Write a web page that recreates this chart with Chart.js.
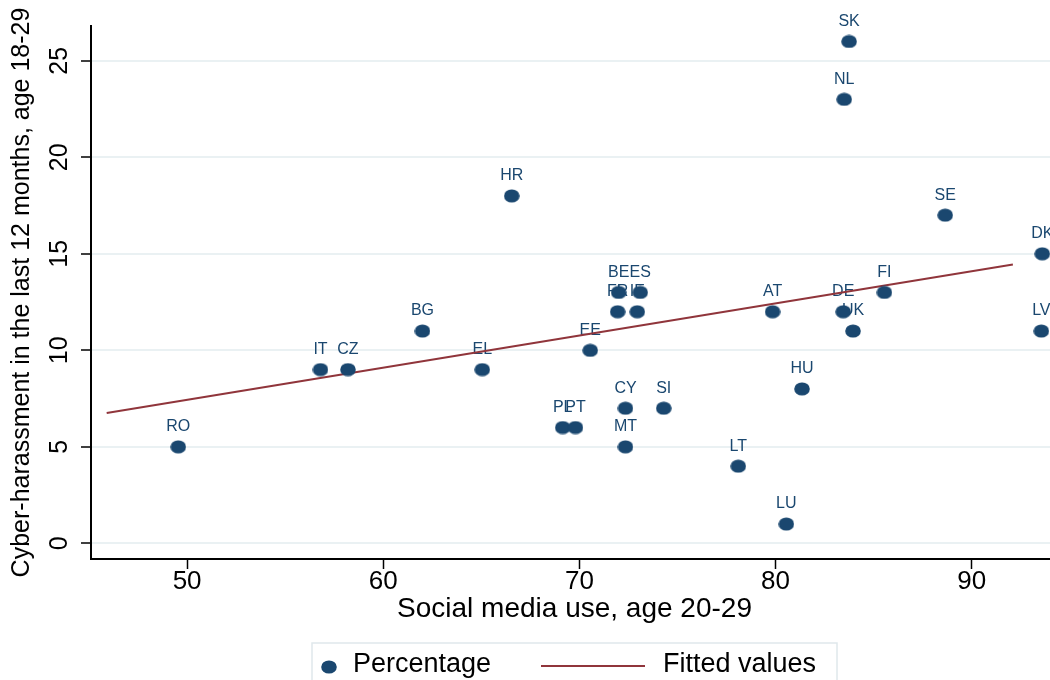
<!DOCTYPE html>
<html>
<head>
<meta charset="utf-8">
<script src="https://cdn.jsdelivr.net/npm/chart.js@4.4.1/dist/chart.umd.min.js"></script>
<style>
  html, body { margin: 0; padding: 0; background: #fff; overflow: hidden; width: 1050px; height: 680px; }
  #wrap { position: relative; width: 1075px; height: 700px; }
</style>
</head>
<body>
<div id="wrap"><canvas id="c" width="1075" height="700"></canvas></div>
<script>
// Country codes and their values
const countries = ['RO','IT','CZ','BG','EL','HR','PL','PT','EE','BE','FR','ES','IE','CY','MT','SI','LT','LU','AT','HU','DE','UK','NL','SK','FI','SE','DK','LV'];
const socialMediaUse = [49.55,56.8,58.2,62.0,65.05,66.55,69.15,69.8,70.55,72.0,71.95,73.1,72.95,72.35,72.35,74.3,78.1,80.55,79.85,81.35,83.45,83.95,83.5,83.75,85.55,88.65,93.6,93.55];
const cyberHarassment = [5,9,9,11,9,18,6,6,10,13,12,13,12,7,5,7,4,1,12,8,12,11,23,26,13,17,15,11];

// Linear fit endpoints
const fitX = [45.9, 92.1];
const fitY = [6.75, 14.45];

// Axis ticks
const xTicks = [50, 60, 70, 80, 90];
const yTicks = [0, 5, 10, 15, 20, 25];

const NAVY = '#1a476f';
const MAROON = '#90353b';
const FONT = '"Liberation Sans", Arial, sans-serif';

// Marker: filled navy dot
const dot = document.createElement('canvas');
dot.width = 16; dot.height = 14;
(function () {
  const g = dot.getContext('2d');
  g.fillStyle = NAVY;
  g.beginPath();
  g.ellipse(8, 7, 7.8, 6.6, 0, 0, Math.PI * 2);
  g.fill();
})();

const scatterPoints = socialMediaUse.map((x, i) => ({ x: x, y: cyberHarassment[i] }));
const fitPoints = fitX.map((x, i) => ({ x: x, y: fitY[i] }));

// Country code above each marker
const pointLabels = {
  id: 'pointLabels',
  beforeDatasetsDraw(chart) {
    const meta = chart.getDatasetMeta(0);
    const ctx = chart.ctx;
    ctx.save();
    ctx.font = '16px ' + FONT;
    ctx.fillStyle = NAVY;
    ctx.textAlign = 'center';
    ctx.textBaseline = 'middle';
    meta.data.forEach((pt, i) => ctx.fillText(countries[i], pt.x, pt.y - 20));
    ctx.restore();
  }
};

// Boxed legend below the x-axis title
const legendBox = {
  id: 'legendBox',
  afterDraw(chart) {
    const { ctx, chartArea } = chart;
    const cx = (chartArea.left + chartArea.right) / 2;
    const w = 525, h = 50, top = 643;
    const left = cx - w / 2;
    const mid = top + 22;
    ctx.save();
    ctx.strokeStyle = '#dfe8eb';
    ctx.lineWidth = 1.5;
    ctx.strokeRect(left, top, w, h);
    ctx.drawImage(dot, left + 17 - 8, mid + 2 - 7);
    ctx.font = '27px ' + FONT;
    ctx.fillStyle = '#000';
    ctx.textAlign = 'left';
    ctx.textBaseline = 'middle';
    ctx.fillText(chart.data.datasets[0].label, left + 41, mid);
    ctx.strokeStyle = MAROON;
    ctx.lineWidth = 2.2;
    ctx.beginPath();
    ctx.moveTo(left + 229, mid + 1);
    ctx.lineTo(left + 333, mid + 1);
    ctx.stroke();
    ctx.fillText(chart.data.datasets[1].label, left + 351, mid);
    ctx.restore();
  }
};

new Chart(document.getElementById('c'), {
  type: 'scatter',
  data: {
    datasets: [
      {
        label: 'Percentage',
        data: scatterPoints,
        pointStyle: dot,
        pointRadius: 7,
        pointHoverRadius: 7,
        backgroundColor: NAVY,
        borderWidth: 0
      },
      {
        type: 'line',
        label: 'Fitted values',
        data: fitPoints,
        borderColor: MAROON,
        borderWidth: 2,
        pointRadius: 0,
        fill: false
      }
    ]
  },
  options: {
    responsive: false,
    animation: false,
    devicePixelRatio: 1,
    layout: { padding: { top: 26, right: 17, bottom: 77, left: 4 } },
    plugins: {
      legend: { display: false },
      tooltip: { enabled: false }
    },
    scales: {
      x: {
        type: 'linear',
        min: 45.1,
        max: 94.4,
        afterBuildTicks: (axis) => { axis.ticks = xTicks.map(v => ({ value: v })); },
        border: { color: '#000', width: 2 },
        grid: { drawOnChartArea: false, drawTicks: true, tickLength: 10, tickColor: '#000', tickWidth: 1.5 },
        ticks: { color: '#000', padding: 0, font: { family: FONT, size: 26, lineHeight: 1.0 } },
        title: {
          display: true,
          text: 'Social media use, age 20-29',
          color: '#000',
          font: { family: FONT, size: 28, lineHeight: 1.0 },
          padding: { top: 0, bottom: 0 }
        }
      },
      y: {
        type: 'linear',
        min: -0.81,
        max: 26.8,
        afterBuildTicks: (axis) => { axis.ticks = yTicks.map(v => ({ value: v })); },
        border: { color: '#000', width: 2 },
        grid: { color: '#eaf1f3', lineWidth: 2, drawTicks: true, tickLength: 10, tickColor: '#000', tickWidth: 1.5 },
        ticks: {
          color: '#000',
          minRotation: 90,
          maxRotation: 90,
          crossAlign: 'center',
          padding: 7,
          font: { family: FONT, size: 25, lineHeight: 1.0 }
        },
        title: {
          display: true,
          text: 'Cyber-harassment in the last 12 months, age 18-29',
          color: '#000',
          font: { family: FONT, size: 25, lineHeight: 1.0 },
          padding: { top: 6, bottom: 7 }
        }
      }
    }
  },
  plugins: [pointLabels, legendBox]
});
</script>
</body>
</html>
